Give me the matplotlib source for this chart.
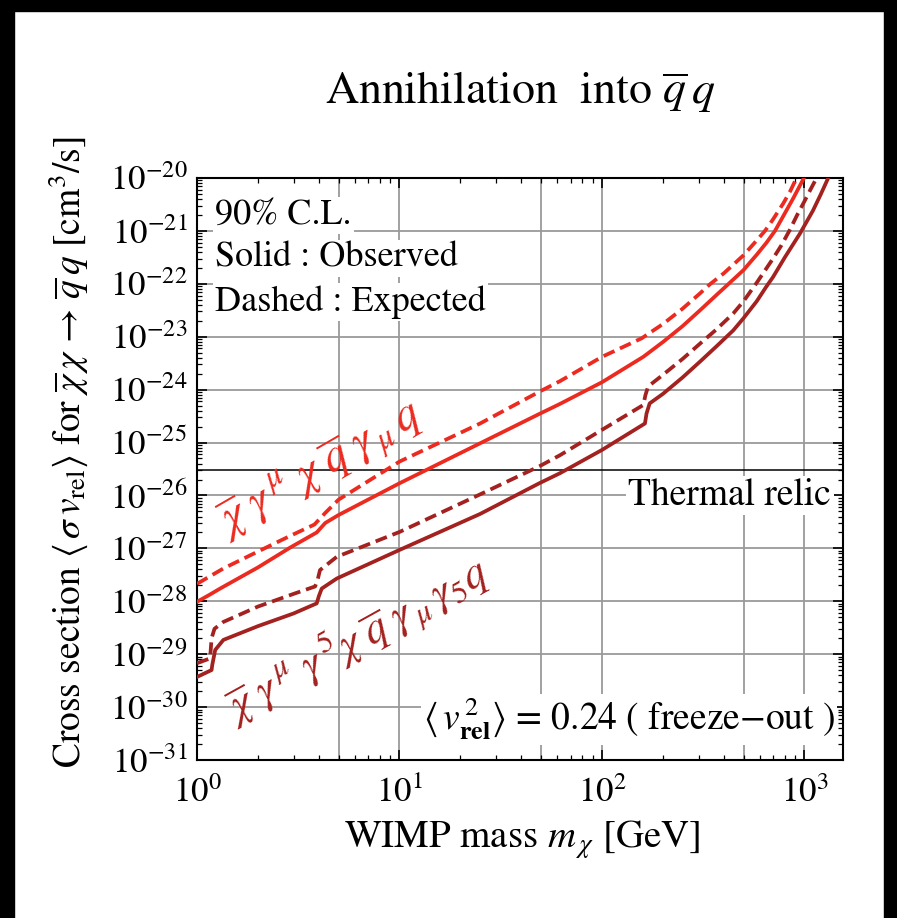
import numpy as np
import matplotlib
matplotlib.use("Agg")
import matplotlib.pyplot as plt
from matplotlib.patches import Rectangle
from matplotlib.ticker import LogLocator, NullFormatter

plt.rcParams['mathtext.fontset'] = 'stix'
plt.rcParams['font.family'] = ['STIXGeneral', 'DejaVu Serif']

# ---------------- data (log10 of <sigma v> in cm^3/s) ----------------
# vector operator, observed (solid)
m_vec_obs = [1.0, 1.15, 1.3, 2.0, 2.9, 3.9, 4.3, 5.0, 10, 22, 49, 62, 100, 160,
             200, 250, 305, 368, 414, 500, 581, 650, 715, 786, 881, 994, 1010]
sv_vec_obs = [-28.01, -27.88, -27.76, -27.36, -26.98, -26.70, -26.52, -26.37, -25.77,
              -25.12, -24.46, -24.27, -23.86, -23.38, -23.10, -22.80, -22.50, -22.21,
              -22.03, -21.74, -21.45, -21.22, -21.00, -20.72, -20.38, -20.0, -19.94]
# vector operator, expected (dashed)
m_vec_exp = [1.0, 1.35, 2.0, 2.9, 3.8, 4.3, 5.0, 10, 25, 49, 62, 100, 157,
             200, 250, 305, 341, 400, 500, 581, 638, 700, 786, 850, 914, 930]
sv_vec_exp = [-27.67, -27.38, -27.06, -26.76, -26.55, -26.33, -26.08, -25.36, -24.64,
              -24.04, -23.84, -23.38, -23.03, -22.76, -22.47, -22.18, -22.01, -21.80,
              -21.46, -21.18, -21.00, -20.78, -20.48, -20.25, -20.0, -19.94]
# axial operator, observed (solid)
m_ax_obs = [1.0, 1.18, 1.19, 1.23, 1.35, 2.0, 3.0, 3.9, 4.0, 4.13, 4.9, 10, 25, 49,
            62, 100, 163, 166, 172, 200, 250, 305, 368, 445, 500, 581, 649, 700,
            800, 950, 1100, 1200, 1310, 1330]
sv_ax_obs = [-29.43, -29.30, -29.20, -28.92, -28.73, -28.47, -28.23, -28.04, -27.90,
             -27.76, -27.57, -27.03, -26.35, -25.77, -25.58, -25.14, -24.64, -24.45,
             -24.26, -24.08, -23.77, -23.47, -23.18, -22.88, -22.65, -22.33, -22.05,
             -21.87, -21.50, -21.05, -20.62, -20.32, -20.0, -19.94]
# axial operator, expected (dashed)
m_ax_exp = [1.0, 1.16, 1.17, 1.18, 1.22, 1.35, 2.0, 3.0, 3.83, 3.95, 4.05, 4.9, 10, 25,
            49, 62, 100, 160, 164, 169, 200, 250, 305, 368, 445, 500, 581, 700, 770,
            847, 920, 1000, 1070, 1148, 1165]
sv_ax_exp = [-29.17, -29.08, -28.90, -28.70, -28.52, -28.39, -28.10, -27.86, -27.72,
             -27.58, -27.41, -27.16, -26.69, -25.98, -25.45, -25.24, -24.76, -24.29,
             -24.10, -23.94, -23.72, -23.42, -23.13, -22.86, -22.56, -22.33, -21.98,
             -21.52, -21.27, -20.98, -20.70, -20.44, -20.22, -20.0, -19.94]

thermal_relic = 3e-26
x_grid = [1, 5, 10, 50, 100, 500, 1000]

red = '#EC2A20'
dark = '#A3211F'

# ---------------- figure ----------------
fig = plt.figure(figsize=(8.97, 9.18), dpi=100)
fig.patch.set_facecolor('white')

# black presentation border
fig.patches.append(Rectangle((0, 0), 14 / 897, 1, transform=fig.transFigure,
                             color='black', zorder=0))
fig.patches.append(Rectangle((884 / 897, 0), 13 / 897, 1, transform=fig.transFigure,
                             color='black', zorder=0))
fig.patches.append(Rectangle((0, 1 - 11 / 918), 1, 11 / 918, transform=fig.transFigure,
                             color='black', zorder=0))

ax = fig.add_axes([197 / 897, 1 - 760 / 918, 646 / 897, 582 / 918])
ax.set_xscale('log')
ax.set_yscale('log')
ax.set_xlim(1, 1550)
ax.set_ylim(1e-31, 1e-20)

# grid
for xv in x_grid:
    ax.axvline(xv, color='#9a9a9a', lw=1.3, zorder=1)
for e in range(-31, -19):
    ax.axhline(10.0 ** e, color='#9a9a9a', lw=1.3, zorder=1)

ax.axhline(thermal_relic, color='black', lw=1.1, zorder=2)

lw = 2.7
ax.plot(m_vec_obs, 10.0 ** np.array(sv_vec_obs), color=red, lw=lw, zorder=4,
        solid_joinstyle='round')
ax.plot(m_vec_exp, 10.0 ** np.array(sv_vec_exp), color=red, lw=lw, zorder=4,
        dashes=(3.2, 1.6), dash_joinstyle='round')
ax.plot(m_ax_obs, 10.0 ** np.array(sv_ax_obs), color=dark, lw=lw, zorder=4,
        solid_joinstyle='round')
ax.plot(m_ax_exp, 10.0 ** np.array(sv_ax_exp), color=dark, lw=lw, zorder=4,
        dashes=(3.2, 1.6), dash_joinstyle='round')

# ticks
ax.tick_params(which='both', direction='in', top=True, right=True, labelsize=25)
ax.tick_params(axis='x', which='both', pad=12)
ax.tick_params(axis='y', which='both', pad=7)
ax.tick_params(which='major', length=7, width=1.2)
ax.tick_params(which='minor', length=3.5, width=0.9)
ax.xaxis.set_major_locator(LogLocator(base=10, numticks=10))
ax.xaxis.set_minor_locator(LogLocator(base=10, subs=np.arange(2, 10), numticks=20))
ax.xaxis.set_minor_formatter(NullFormatter())
ax.yaxis.set_major_locator(LogLocator(base=10, numticks=20))
ax.yaxis.set_minor_locator(LogLocator(base=10, subs=np.arange(2, 10), numticks=40))
ax.yaxis.set_minor_formatter(NullFormatter())
for s in ax.spines.values():
    s.set_linewidth(1.5)

# texts
box = dict(facecolor='white', edgecolor='none', pad=1.5)
fs = 26
ax.text(0.028, 0.936, '90% C.L.', transform=ax.transAxes, fontsize=fs,
        ha='left', va='center', bbox=box, zorder=5)
ax.text(0.028, 0.862, 'Solid : Observed', transform=ax.transAxes, fontsize=fs,
        ha='left', va='center', bbox=box, zorder=5)
ax.text(0.028, 0.787, 'Dashed : Expected', transform=ax.transAxes, fontsize=fs,
        ha='left', va='center', bbox=box, zorder=5)
ax.text(0.982, 0.455, 'Thermal relic', transform=ax.transAxes, fontsize=27,
        ha='right', va='center', bbox=box, zorder=5)
ax.text(0.988, 0.07, r'$\langle\, v_{\mathbf{rel}}^{\,2}\rangle$ = 0.24 ( freeze$-$out )',
        transform=ax.transAxes, fontsize=27, ha='right', va='center',
        bbox=box, zorder=5)

ax.text(0.190, 0.498,
        r'$\overline{\chi}\;\gamma^{\,\mu}\;\chi\;\overline{q}\;\gamma_{\,\mu}\,q$',
        transform=ax.transAxes, fontsize=34, color=red, rotation=30,
        rotation_mode='anchor', ha='center', va='center', zorder=5)
ax.text(0.247, 0.206,
        r'$\overline{\chi}\;\gamma^{\,\mu}\;\gamma^{\,5}\chi\;\overline{q}\;\gamma_{\,\mu}\,\gamma_{5}q$',
        transform=ax.transAxes, fontsize=32, color=dark, rotation=29,
        rotation_mode='anchor', ha='center', va='center', zorder=5)

fig.text(520 / 897, 1 - 92 / 918, r'Annihilation  into $\overline{q}\,q$',
         fontsize=33, ha='center', va='center')
fig.text(522 / 897, 1 - 840 / 918, r'WIMP mass $m_{\,\chi}$ [GeV]',
         fontsize=28, ha='center', va='center')
fig.text(68 / 897, 1 - 452 / 918,
         r'Cross section $\langle\,\sigma\, v_{\rm rel}\rangle$ for $\overline{\chi}\,\chi\,\rightarrow\,\overline{q}\,q$ [cm$^{3}$/s]',
         fontsize=27, ha='center', va='center', rotation=90)

fig.savefig('out.png', dpi=100, facecolor=fig.get_facecolor())
